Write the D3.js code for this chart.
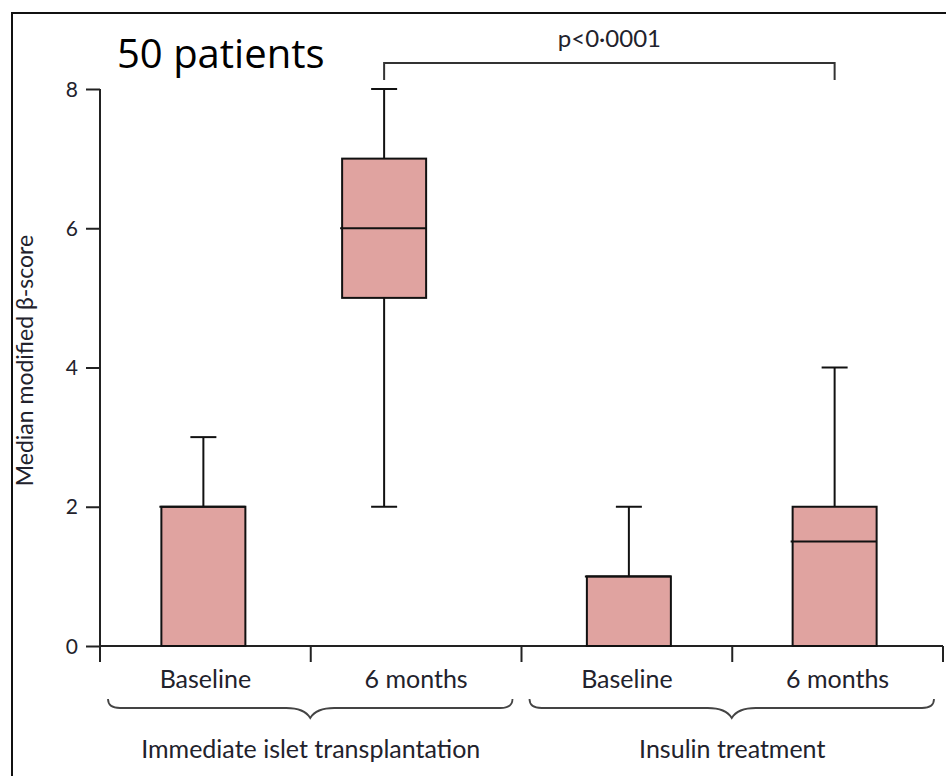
<!DOCTYPE html>
<html>
<head>
<meta charset="utf-8">
<script src="https://cdn.jsdelivr.net/npm/d3@7"></script>
<style>
  body { margin: 0; background: #fff; }
  text { font-family: Lato, "Open Sans", sans-serif; fill: #22222c; }
</style>
</head>
<body>
<svg width="946" height="776"></svg>
<script>
// values
const categories = ['Baseline', '6 months', 'Baseline', '6 months'];
const groups = ['Immediate islet transplantation', 'Insulin treatment'];
const mins    = [0, 2, 0, 0];
const q1s     = [0, 5, 0, 0];
const medians = [2, 6, 1, 1.5];
const q3s     = [2, 7, 1, 2];
const maxs    = [3, 8, 2, 4];
const yTicks  = [0, 2, 4, 6, 8];
const pLabel = 'p<0·0001';
const title = '50 patients';

const svg = d3.select('svg');
const width = +svg.attr('width');

const margin = {top: 89, left: 100, right: 3, bottom: 130};
const x0 = margin.left, x1 = width - margin.right;
const yZero = 646;

const xScale = d3.scaleBand()
  .domain(d3.range(categories.length))
  .range([x0, x1]);

const yScale = d3.scaleLinear()
  .domain([0, 8])
  .range([yZero, margin.top]);

const boxWidth = 84, capWidth = 26;
// the second box sits a little left of its slot in the original
const boxShift = [-2, -32, 2, -3];
const cx = i => xScale(i) + xScale.bandwidth() / 2 + boxShift[i];

// frame
svg.append('rect')
  .attr('x', 12).attr('y', 13)
  .attr('width', 960).attr('height', 800)
  .attr('fill', 'none').attr('stroke', '#111').attr('stroke-width', 2);

// title
svg.append('text')
  .attr('x', 117).attr('y', 68)
  .style('font-family', '"Open Sans", sans-serif')
  .style('font-size', '40px')
  .style('fill', '#000')
  .text(title);

// y axis
const yAxis = d3.axisLeft(yScale)
  .tickValues(yTicks)
  .tickSize(14)
  .tickSizeOuter(0)
  .tickPadding(8);

const yAxisG = svg.append('g')
  .attr('transform', `translate(${x0},0)`)
  .call(yAxis);
yAxisG.select('.domain').remove();
yAxisG.selectAll('line').attr('stroke', '#222').attr('stroke-width', 2);
yAxisG.selectAll('text')
  .style('font-size', '21px')
  .style('font-family', 'Lato, sans-serif')
  .attr('dy', '0.34em');

svg.append('line')
  .attr('x1', x0).attr('x2', x0)
  .attr('y1', yScale(8)).attr('y2', yZero + 16)
  .attr('stroke', '#222').attr('stroke-width', 2);

svg.append('text')
  .attr('transform', `translate(33, ${yScale(4.1)}) rotate(-90)`)
  .attr('text-anchor', 'middle')
  .style('font-size', '23px')
  .text('Median modified β-score');

// x axis
svg.append('line')
  .attr('x1', x0).attr('x2', x1)
  .attr('y1', yZero).attr('y2', yZero)
  .attr('stroke', '#222').attr('stroke-width', 2);

svg.selectAll('.xtick')
  .data(d3.range(categories.length + 1))
  .join('line')
  .attr('class', 'xtick')
  .attr('x1', i => x0 + i * xScale.step())
  .attr('x2', i => x0 + i * xScale.step())
  .attr('y1', yZero).attr('y2', yZero + 16)
  .attr('stroke', '#222').attr('stroke-width', 2);

svg.selectAll('.xlabel')
  .data(categories)
  .join('text')
  .attr('class', 'xlabel')
  .attr('x', (d, i) => xScale(i) + xScale.bandwidth() / 2)
  .attr('y', 688)
  .attr('text-anchor', 'middle')
  .style('font-size', '25px')
  .text(d => d);

// braces under groups
const brace = (a, b, y) => {
  const m = (a + b) / 2;
  return `M${a},${y - 9} Q${a},${y} ${a + 12},${y} L${m - 24},${y} ` +
         `Q${m - 6},${y} ${m},${y + 10} Q${m + 6},${y} ${m + 24},${y} ` +
         `L${b - 12},${y} Q${b},${y} ${b},${y - 9}`;
};
const groupSpan = 2 * xScale.step();
svg.selectAll('.brace')
  .data(groups)
  .join('path')
  .attr('class', 'brace')
  .attr('d', (d, i) => brace(x0 + i * groupSpan + 8, x0 + (i + 1) * groupSpan - 9, 708))
  .attr('fill', 'none').attr('stroke', '#444').attr('stroke-width', 1.8);

svg.selectAll('.glabel')
  .data(groups)
  .join('text')
  .attr('class', 'glabel')
  .attr('x', (d, i) => x0 + (i + 0.5) * groupSpan)
  .attr('y', 758)
  .attr('text-anchor', 'middle')
  .style('font-size', '25px')
  .text(d => d);

// boxes
const idx = d3.range(categories.length);
const boxes = svg.selectAll('.box')
  .data(idx)
  .join('g')
  .attr('class', 'box');

// whiskers
boxes.append('line')
  .attr('x1', i => cx(i)).attr('x2', i => cx(i))
  .attr('y1', i => yScale(maxs[i])).attr('y2', i => yScale(q3s[i]))
  .attr('stroke', '#111').attr('stroke-width', 2);

boxes.append('line')
  .attr('x1', i => cx(i)).attr('x2', i => cx(i))
  .attr('y1', i => yScale(q1s[i])).attr('y2', i => yScale(mins[i]))
  .attr('stroke', '#111').attr('stroke-width', 2);

// caps
boxes.filter(i => maxs[i] > q3s[i])
  .append('line')
  .attr('x1', i => cx(i) - capWidth / 2).attr('x2', i => cx(i) + capWidth / 2)
  .attr('y1', i => yScale(maxs[i])).attr('y2', i => yScale(maxs[i]))
  .attr('stroke', '#111').attr('stroke-width', 2);

boxes.filter(i => mins[i] < q1s[i])
  .append('line')
  .attr('x1', i => cx(i) - capWidth / 2).attr('x2', i => cx(i) + capWidth / 2)
  .attr('y1', i => yScale(mins[i])).attr('y2', i => yScale(mins[i]))
  .attr('stroke', '#111').attr('stroke-width', 2);

boxes.append('rect')
  .attr('x', i => cx(i) - boxWidth / 2)
  .attr('width', boxWidth)
  .attr('y', i => yScale(q3s[i]))
  .attr('height', i => yScale(q1s[i]) - yScale(q3s[i]))
  .attr('fill', '#e0a3a0')
  .attr('stroke', '#111').attr('stroke-width', 2);

boxes.append('line')
  .attr('x1', i => cx(i) - boxWidth / 2 - 2).attr('x2', i => cx(i) + boxWidth / 2)
  .attr('y1', i => yScale(medians[i])).attr('y2', i => yScale(medians[i]))
  .attr('stroke', '#111').attr('stroke-width', 2);

// significance bracket between the two 6-month boxes
const bracketY = 63;
svg.append('path')
  .attr('d', `M${cx(1)},${bracketY + 17} V${bracketY} H${cx(3)} V${bracketY + 17}`)
  .attr('fill', 'none').attr('stroke', '#333').attr('stroke-width', 2);

svg.append('text')
  .attr('x', (cx(1) + cx(3)) / 2)
  .attr('y', 47)
  .attr('text-anchor', 'middle')
  .style('font-size', '24px')
  .text(pLabel);
</script>
</body>
</html>
